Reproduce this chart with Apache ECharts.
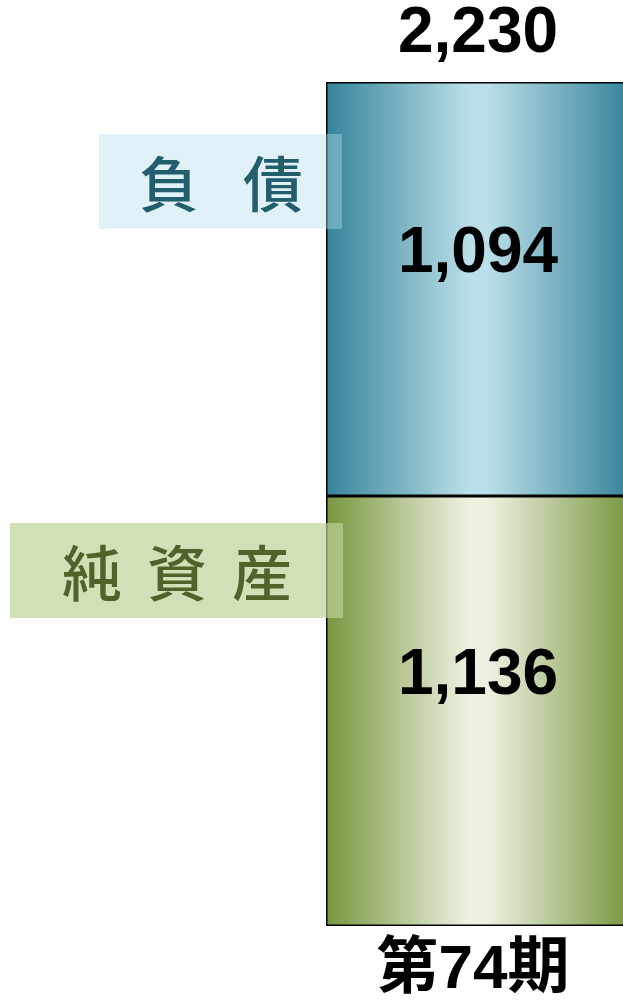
<!DOCTYPE html>
<html>
<head>
<meta charset="utf-8">
<script src="https://cdn.jsdelivr.net/npm/echarts@6/dist/echarts.min.js"></script>
<style>
  html, body { margin: 0; padding: 0; background: #ffffff; }
  #chart { width: 623px; height: 1004px; }
</style>
</head>
<body>
<div id="chart"></div>
<script>
// data
var categories = ["第74期"];
var debtValues = [1094];
var equityValues = [1136];
var seriesNames = ["負債", "純資産"];

function fmt(n) {
  return String(n).replace(/\B(?=(\d{3})+(?!\d))/g, ",");
}

var totals = categories.map(function (c, i) {
  return debtValues[i] + equityValues[i];
});

var numFont = "'Liberation Sans', Arial, sans-serif";
var jpFont = "'Liberation Sans', 'Noto Sans CJK JP', sans-serif";

function hGrad(dark, light) {
  return new echarts.graphic.LinearGradient(0, 0, 1, 0, [
    { offset: 0, color: dark },
    { offset: 0.47, color: light },
    { offset: 0.53, color: light },
    { offset: 1, color: dark },
  ]);
}

var chart = echarts.init(document.getElementById("chart"));
chart.setOption({
  animation: false,
  grid: { left: 326, top: 82, width: 304, height: 844, outerBoundsMode: "none" },
  xAxis: {
    type: "category",
    data: categories,
    axisLine: { show: false },
    axisTick: { show: false },
    axisLabel: {
      margin: 14,
      fontSize: 62,
      fontWeight: "bold",
      color: "#000000",
      fontFamily: jpFont,
      padding: [0, 10, 0, 0],
    },
  },
  yAxis: {
    type: "value",
    min: 0,
    max: 2230,
    show: false,
    splitLine: { show: false },
  },
  series: [
    {
      name: seriesNames[1],
      type: "bar",
      stack: "bs",
      barWidth: "100%",
      data: equityValues,
      itemStyle: {
        color: hGrad("#77963f", "#eef2e2"),
        borderColor: "#000000",
        borderWidth: 1.5,
      },
      label: {
        show: true,
        position: "inside",
        offset: [0, -35],
        fontSize: 64,
        fontWeight: "bold",
        color: "#000000",
        fontFamily: numFont,
        formatter: function (p) { return fmt(p.value); },
      },
    },
    {
      name: seriesNames[0],
      type: "bar",
      stack: "bs",
      barWidth: "100%",
      data: debtValues,
      itemStyle: {
        color: hGrad("#35839a", "#badfe8"),
        borderColor: "#000000",
        borderWidth: 1.5,
      },
      label: {
        show: true,
        position: "inside",
        offset: [0, -35],
        fontSize: 64,
        fontWeight: "bold",
        color: "#000000",
        fontFamily: numFont,
        formatter: function (p) { return fmt(p.value); },
      },
    },
    {
      // zero-height bar only carries the total label
      name: "total",
      type: "bar",
      stack: "bs",
      barWidth: "100%",
      data: categories.map(function () { return 0; }),
      itemStyle: { color: "transparent" },
      label: {
        show: true,
        position: "top",
        distance: 16,
        fontSize: 64,
        fontWeight: "bold",
        color: "#000000",
        fontFamily: numFont,
        formatter: function (p) { return fmt(totals[p.dataIndex]); },
      },
    },
  ],
  graphic: [
    {
      type: "rect",
      z: 100,
      shape: { x: 99, y: 134, width: 243, height: 95 },
      style: { fill: "rgba(178,222,236,0.4)" },
    },
    {
      type: "text",
      z: 101,
      x: 221,
      y: 184,
      style: {
        text: "{a|負}{g|}{a|債}",
        align: "center",
        verticalAlign: "middle",
        rich: {
          a: { fontSize: 60, fontFamily: "'Noto Sans CJK JP'", fill: "#225e6e", fontWeight: 500 },
          g: { width: 44 },
        },
      },
    },
    {
      type: "rect",
      z: 100,
      shape: { x: 10, y: 523, width: 333, height: 95 },
      style: { fill: "rgba(188,210,150,0.68)" },
    },
    {
      type: "text",
      z: 101,
      x: 177,
      y: 573,
      style: {
        text: "{a|純}{g|}{a|資}{g|}{a|産}",
        align: "center",
        verticalAlign: "middle",
        rich: {
          a: { fontSize: 60, fontFamily: "'Noto Sans CJK JP'", fill: "#51632a", fontWeight: 500 },
          g: { width: 25 },
        },
      },
    },
  ],
});
</script>
</body>
</html>
